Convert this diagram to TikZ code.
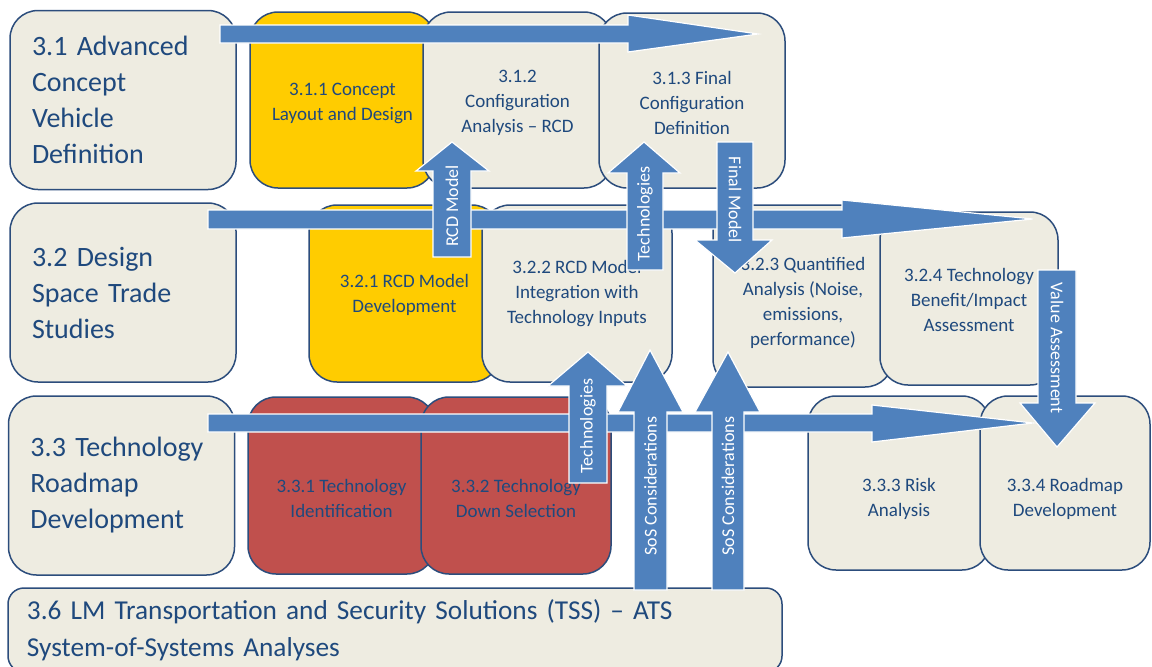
\documentclass[tikz,border=0pt]{standalone}
\usepackage{fontspec}
\setmainfont{Carlito}
\definecolor{boxfill}{HTML}{EEECE1}
\definecolor{boxline}{HTML}{2C4D7C}
\definecolor{boxtext}{HTML}{1F497D}
\definecolor{taskyellow}{HTML}{FFCC00}
\definecolor{taskred}{HTML}{C0504D}
\definecolor{flowblue}{HTML}{4F81BD}
\newcommand{\lowerby}[1]{\rule{0pt}{#1}}
\begin{document}
\begin{tikzpicture}[x=1pt, y=-1pt,
        mainbox/.style={draw=boxline, fill=boxfill, line width=1.5pt, rounded corners=28pt, text=boxtext,
            font=\fontsize{28}{36}\selectfont, align=left, text width=182pt, inner xsep=22pt, minimum height=179pt},
        subbox/.style={draw=boxline, fill=boxfill, line width=1.5pt, rounded corners=28pt, text=boxtext,
            font=\fontsize{19}{25}\selectfont, align=center, inner sep=0pt},
        flowarrow/.style={fill=flowblue, draw=white, line width=1.2pt},
        arrowtext/.style={text=white, font=\fontsize{18}{20}\selectfont, inner sep=0pt}
    ]
        \useasboundingbox (0,0) rectangle (1152,667);

        % row 3.1
        \node[mainbox] (b31) at (123,100) {3.1 Advanced\\Concept\\Vehicle\\Definition};
        \node[subbox, fill=taskyellow, minimum width=185pt, minimum height=176pt] (b311) at (342.5,100) {\lowerby{19pt}3.1.1 Concept\\Layout and Design};
        \node[subbox, minimum width=189pt, minimum height=176pt] (b312) at (517.5,100) {\lowerby{19pt}3.1.2\\Configuration\\Analysis -- RCD};
        \node[subbox, minimum width=186pt, minimum height=175pt] (b313) at (692,100.5) {\lowerby{19pt}3.1.3 Final\\Configuration\\Definition};

        % row 3.2
        \node[mainbox] (b32) at (123,292.5) {3.2 Design\\Space Trade\\Studies};
        \node[subbox, fill=taskyellow, minimum width=191pt, minimum height=177pt] (b321) at (404.5,293.5) {\lowerby{17pt}3.2.1 RCD Model\\Development};
        \node[subbox, minimum width=190pt, minimum height=177pt] (b322) at (577,293.5) {3.2.2 RCD Model\\Integration with\\Technology Inputs};
        \node[subbox, minimum width=180pt, minimum height=182pt] (b323) at (803,296) {\lowerby{27pt}3.2.3 Quantified\\Analysis (Noise,\\emissions,\\performance)};
        \node[subbox, minimum width=178pt, minimum height=173pt] (b324) at (969,298.5) {\lowerby{17pt}3.2.4 Technology\\Benefit/Impact\\Assessment};

        % row 3.3
        \node[mainbox] (b33) at (121.5,485.5) {3.3 Technology\\Roadmap\\Development};
        \node[subbox, fill=taskred, minimum width=187pt, minimum height=177pt] (b331) at (341.5,485.5) {\lowerby{39pt}3.3.1 Technology\\Identification};
        \node[subbox, fill=taskred, minimum width=190pt, minimum height=177pt] (b332) at (516,485.5) {\lowerby{39pt}3.3.2 Technology\\Down Selection};
        \node[subbox, minimum width=182pt, minimum height=174pt] (b333) at (899,483) {\lowerby{45pt}3.3.3 Risk\\Analysis};
        \node[subbox, minimum width=170pt, minimum height=174pt] (b334) at (1065,483) {\lowerby{45pt}3.3.4 Roadmap\\Development};

        % row 3.6
        \node[mainbox, rounded corners=16pt, text width=736pt, inner xsep=19pt, minimum height=84pt,
            font=\fontsize{27.3}{37}\selectfont] (b36) at (395,630)
            {3.6 LM Transportation and Security Solutions (TSS) -- ATS\\System-of-Systems Analyses};

        % flow arrows
        \draw[flowarrow] (220,25) -- (628,25) -- (628,15) -- (758,34) -- (628,52) -- (628,43) -- (220,43) -- cycle;
        \draw[flowarrow] (208,210) -- (842,210) -- (842,200) -- (1033,219) -- (842,238) -- (842,229) -- (208,229) -- cycle;
        \draw[flowarrow] (208,414) -- (872,414) -- (872,405) -- (1033,423) -- (872,442) -- (872,432) -- (208,432) -- cycle;

        % hand-over arrows
        \draw[flowarrow] (433,257) -- (433,171) -- (416,171) -- (452,142) -- (489,171) -- (471,171) -- (471,257) -- cycle;
        \node[arrowtext, rotate=90] (rcdmodel) at (452,206) {RCD Model};
        \draw[flowarrow] (627,270) -- (627,173) -- (608,173) -- (644,142) -- (680,173) -- (663,173) -- (663,270) -- cycle;
        \node[arrowtext, rotate=90] (techup) at (645,214) {Technologies};
        \draw[flowarrow] (717,142) -- (717,240) -- (695,240) -- (735,273) -- (772,240) -- (753,240) -- (753,142) -- cycle;
        \node[arrowtext, rotate=-90] (finalmodel) at (735,200) {Final Model};
        \draw[flowarrow] (1038,270) -- (1038,403) -- (1020,403) -- (1057,447) -- (1095,403) -- (1076,403) -- (1076,270) -- cycle;
        \node[arrowtext, rotate=-90] (value) at (1057,348) {Value Assessment};
        \draw[flowarrow] (569,483) -- (569,386) -- (548,386) -- (588,352) -- (627,386) -- (607,386) -- (607,483) -- cycle;
        \node[arrowtext, rotate=90] (techlow) at (588,426) {Technologies};
        \draw[flowarrow] (634,590) -- (634,412) -- (618,412) -- (650,350) -- (683,412) -- (667,412) -- (667,590) -- cycle;
        \node[arrowtext, rotate=90] (sosa) at (650.5,486) {SoS Considerations};
        \draw[flowarrow] (712,590) -- (712,412) -- (695,412) -- (728,352) -- (760,412) -- (744,412) -- (744,590) -- cycle;
        \node[arrowtext, rotate=90] (sosb) at (728,486) {SoS Considerations};
    \end{tikzpicture}
\end{document}
